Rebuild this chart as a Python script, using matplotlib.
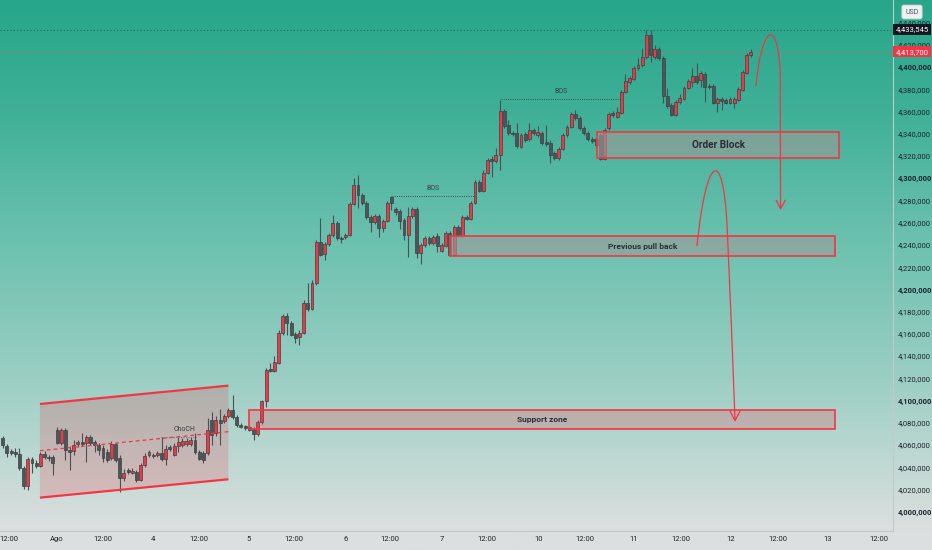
import numpy as np
import matplotlib
matplotlib.use("Agg")
import matplotlib.pyplot as plt
import matplotlib.transforms as mtransforms
from matplotlib.patches import Rectangle, Polygon, PathPatch
from matplotlib.path import Path
from matplotlib.colors import LinearSegmentedColormap

plt.rcParams['font.family'] = ['Roboto', 'DejaVu Sans']

# hourly candles, prices in thousands of USD
opens = [
    4066.4, 4059.3, 4054.8, 4053.9, 4052.1, 4039.5, 4023.3, 4047.6, 4044.0, 4041.3,
    4052.1, 4049.4, 4049.4, 4073.6, 4061.9, 4073.6, 4055.7, 4054.8, 4061.0, 4062.8,
    4061.9, 4067.3, 4062.8, 4060.2, 4057.4, 4053.9, 4048.5, 4061.0, 4048.5, 4030.5,
    4037.7, 4035.0, 4035.9, 4028.7, 4042.2, 4051.2, 4051.2, 4051.2, 4053.0, 4047.6,
    4058.4, 4051.2, 4059.3, 4060.2, 4061.0, 4061.0, 4064.6, 4053.9, 4053.0, 4053.0,
    4082.6, 4070.9, 4082.6, 4081.7, 4086.2, 4091.6, 4085.3, 4078.1, 4077.2, 4076.3,
    4074.5, 4070.0, 4080.8, 4099.7, 4128.5, 4126.7, 4133.9, 4160.8, 4176.1, 4169.8,
    4159.9, 4157.3, 4160.8, 4187.8, 4182.4, 4205.8, 4242.6, 4231.9, 4240.8, 4248.9,
    4259.7, 4246.2, 4247.1, 4248.9, 4276.8, 4293.9, 4284.9, 4277.7, 4265.1, 4260.6,
    4266.0, 4255.2, 4261.5, 4283.1, 4272.4, 4270.5, 4262.4, 4248.9, 4266.0, 4272.4,
    4232.8, 4239.9, 4246.2, 4241.7, 4248.0, 4234.6, 4239.0, 4250.7, 4231.0, 4256.1,
    4248.0, 4265.1, 4263.3, 4277.7, 4296.6, 4288.5, 4304.7, 4317.3, 4315.5, 4320.9,
    4360.4, 4347.8, 4340.6, 4340.6, 4328.0, 4339.7, 4335.2, 4343.3, 4338.8, 4340.6,
    4332.5, 4331.6, 4322.6, 4318.2, 4326.2, 4338.8, 4346.0, 4357.7, 4354.1, 4345.1,
    4340.6, 4335.2, 4335.2, 4338.8, 4317.3, 4345.1, 4358.6, 4355.0, 4358.6, 4377.5,
    4386.5, 4389.2, 4399.1, 4401.8, 4409.0, 4428.7, 4409.0, 4416.2, 4408.1, 4373.9,
    4365.8, 4356.8, 4368.5, 4371.2, 4381.1, 4386.5, 4391.9, 4388.3, 4393.7, 4382.9,
    4382.9, 4367.6, 4371.2, 4370.3, 4367.6, 4367.6, 4370.3, 4379.3, 4394.6, 4410.8,
]
highs = [
    4068.2, 4061.0, 4056.6, 4057.4, 4057.4, 4041.3, 4049.4, 4049.4, 4046.7, 4053.9,
    4054.8, 4051.2, 4051.2, 4076.3, 4075.4, 4075.4, 4059.3, 4064.6, 4064.6, 4070.9,
    4069.1, 4069.1, 4064.6, 4061.9, 4060.2, 4056.6, 4063.7, 4061.9, 4051.2, 4038.6,
    4039.5, 4039.5, 4037.7, 4044.0, 4053.0, 4055.7, 4053.0, 4054.8, 4067.3, 4060.2,
    4060.2, 4061.9, 4067.3, 4066.4, 4066.4, 4067.3, 4070.9, 4055.7, 4054.8, 4084.4,
    4089.8, 4086.2, 4092.5, 4088.0, 4093.4, 4105.1, 4087.1, 4079.9, 4078.1, 4078.1,
    4076.3, 4082.6, 4100.6, 4129.4, 4133.9, 4140.2, 4163.5, 4177.9, 4178.8, 4171.6,
    4161.7, 4163.5, 4190.5, 4205.8, 4208.5, 4244.4, 4264.2, 4242.6, 4250.7, 4266.9,
    4261.5, 4248.0, 4250.7, 4278.6, 4300.2, 4302.9, 4286.7, 4279.5, 4266.9, 4267.8,
    4267.8, 4263.3, 4279.5, 4284.0, 4274.1, 4272.4, 4264.2, 4274.1, 4274.1, 4274.1,
    4241.7, 4248.0, 4248.0, 4248.9, 4250.7, 4241.7, 4252.5, 4252.5, 4257.9, 4257.9,
    4266.9, 4266.9, 4279.5, 4298.4, 4298.4, 4307.4, 4318.2, 4320.0, 4327.1, 4370.3,
    4362.2, 4352.3, 4342.4, 4349.6, 4340.6, 4341.5, 4349.6, 4345.1, 4346.9, 4342.4,
    4347.8, 4334.3, 4324.4, 4328.0, 4340.6, 4347.8, 4359.5, 4361.3, 4355.9, 4346.9,
    4342.4, 4337.0, 4337.0, 4340.6, 4345.1, 4359.5, 4360.4, 4364.0, 4379.3, 4393.7,
    4391.9, 4400.9, 4408.1, 4417.0, 4433.5, 4433.2, 4419.7, 4417.9, 4409.9, 4381.1,
    4367.6, 4370.3, 4375.7, 4382.9, 4389.2, 4399.1, 4403.6, 4396.4, 4395.5, 4384.7,
    4384.7, 4373.0, 4373.0, 4372.1, 4373.0, 4373.0, 4382.0, 4397.3, 4412.6, 4416.2,
]
lows = [
    4057.4, 4049.4, 4051.2, 4049.4, 4037.7, 4020.6, 4019.7, 4035.0, 4039.5, 4040.4,
    4047.6, 4045.8, 4033.2, 4061.0, 4060.2, 4046.7, 4037.7, 4051.2, 4058.4, 4059.3,
    4044.9, 4060.2, 4053.9, 4051.2, 4044.9, 4044.9, 4046.7, 4044.9, 4017.9, 4027.8,
    4034.1, 4034.1, 4026.9, 4027.8, 4040.4, 4049.4, 4048.5, 4049.4, 4045.8, 4042.2,
    4054.8, 4050.3, 4053.9, 4058.4, 4059.3, 4059.3, 4052.1, 4046.7, 4044.0, 4051.2,
    4060.2, 4068.2, 4060.2, 4079.9, 4084.4, 4083.5, 4076.3, 4075.4, 4073.6, 4072.7,
    4064.6, 4068.2, 4079.0, 4094.3, 4125.8, 4125.8, 4133.0, 4159.0, 4159.0, 4158.1,
    4151.8, 4150.1, 4159.9, 4180.6, 4181.5, 4204.0, 4230.1, 4226.5, 4239.0, 4247.1,
    4244.4, 4241.7, 4245.3, 4248.0, 4275.9, 4273.2, 4275.9, 4263.3, 4251.6, 4258.8,
    4247.1, 4251.6, 4260.6, 4271.5, 4266.9, 4254.3, 4244.4, 4229.2, 4264.2, 4228.3,
    4222.9, 4238.1, 4239.9, 4239.9, 4233.7, 4233.7, 4238.1, 4230.1, 4230.1, 4247.1,
    4247.1, 4262.4, 4262.4, 4276.8, 4287.6, 4287.6, 4303.8, 4301.1, 4313.7, 4307.4,
    4345.1, 4338.8, 4337.9, 4327.1, 4327.1, 4332.5, 4333.4, 4338.8, 4337.0, 4329.8,
    4328.9, 4313.7, 4316.4, 4316.4, 4325.4, 4337.0, 4345.1, 4352.3, 4343.3, 4338.8,
    4333.4, 4331.6, 4327.1, 4316.4, 4316.4, 4343.3, 4355.0, 4354.1, 4357.7, 4376.6,
    4384.7, 4388.3, 4397.3, 4400.0, 4407.2, 4404.5, 4407.2, 4406.3, 4367.6, 4363.1,
    4355.9, 4355.9, 4366.7, 4370.3, 4380.2, 4382.0, 4384.7, 4382.0, 4368.5, 4380.2,
    4366.7, 4359.5, 4361.3, 4366.7, 4366.7, 4363.1, 4369.4, 4378.4, 4393.7, 4409.0,
]
closes = [
    4060.2, 4053.0, 4053.0, 4052.1, 4039.5, 4023.3, 4047.6, 4044.0, 4041.3, 4052.1,
    4049.4, 4048.5, 4044.0, 4061.9, 4073.6, 4055.7, 4053.9, 4060.2, 4062.8, 4061.0,
    4067.3, 4061.9, 4060.2, 4055.7, 4048.5, 4046.7, 4061.0, 4046.7, 4030.5, 4035.0,
    4035.9, 4036.8, 4028.7, 4042.2, 4050.3, 4053.9, 4050.3, 4053.0, 4047.6, 4056.6,
    4056.6, 4059.3, 4062.8, 4063.7, 4063.7, 4064.6, 4053.9, 4047.6, 4046.7, 4073.6,
    4069.1, 4082.6, 4079.9, 4086.2, 4091.6, 4085.3, 4078.1, 4076.3, 4075.4, 4073.6,
    4070.0, 4080.8, 4099.7, 4127.6, 4126.7, 4134.8, 4160.8, 4176.1, 4169.8, 4159.0,
    4156.3, 4160.8, 4187.8, 4182.4, 4205.8, 4242.6, 4231.0, 4240.8, 4248.9, 4259.7,
    4246.2, 4245.3, 4248.9, 4276.8, 4293.9, 4284.9, 4277.7, 4265.1, 4260.6, 4266.0,
    4255.2, 4261.5, 4277.7, 4277.7, 4269.6, 4261.5, 4248.9, 4266.0, 4272.4, 4232.8,
    4239.9, 4246.2, 4241.7, 4247.1, 4239.0, 4239.9, 4250.7, 4231.0, 4256.1, 4248.0,
    4265.1, 4263.3, 4277.7, 4296.6, 4288.5, 4304.7, 4316.4, 4315.5, 4320.9, 4360.4,
    4346.9, 4340.6, 4339.7, 4328.9, 4338.8, 4334.3, 4343.3, 4340.6, 4341.5, 4331.6,
    4330.7, 4320.9, 4318.2, 4326.2, 4338.8, 4346.0, 4357.7, 4354.1, 4345.1, 4340.6,
    4335.2, 4333.4, 4329.8, 4317.3, 4343.3, 4357.7, 4356.8, 4359.5, 4377.5, 4387.4,
    4390.1, 4399.1, 4401.8, 4409.0, 4428.7, 4410.8, 4416.2, 4408.1, 4373.9, 4364.9,
    4356.8, 4368.5, 4372.1, 4381.1, 4387.4, 4391.9, 4386.5, 4394.6, 4382.0, 4382.0,
    4367.6, 4371.2, 4369.4, 4367.6, 4371.2, 4371.2, 4380.2, 4395.5, 4410.8, 4413.7,
]

# time axis (bar index of each label)
x_tick_pos = [1.4, 13.0, 23.9, 36.0, 47.0, 58.9, 69.7, 82.1, 92.7, 105.1,
              115.9, 128.1, 139.3, 151.0, 162.3, 174.2, 185.5, 197.4, 209.6]
x_tick_labels = ["12:00", "Ago", "12:00", "4", "12:00", "5", "12:00", "6", "12:00", "7",
                 "12:00", "10", "12:00", "11", "12:00", "12", "12:00", "13", "12:00"]
price_ticks = list(range(4000, 4441, 20))

last_price = 4413.7
high_price = 4433.545

# drawings: (bar, price)
channel_top = [(8.9, 4097.0), (54.0, 4113.5)]
channel_bottom = [(8.9, 4012.8), (54.0, 4029.3)]
channel_mid = [(8.9, 4055.0), (54.0, 4072.1)]
choch_level = [(37.9, 4067.6), (46.5, 4067.6)]
bos_levels = [[(93.1, 4284.0), (113.0, 4284.0)], [(119.2, 4370.9), (147.9, 4370.9)]]
zones = [
    # label, left, right, bottom, top
    ("Support zone", 58.9, 199.1, 4074.1, 4091.6),
    ("Previous pull back", 107.1, 199.1, 4229.6, 4248.0),
    ("Order Block", 142.2, 200.1, 4317.7, 4341.1),
]
arc_top = [(180.2, 4382.9), (181.6, 4436.8), (185.2, 4445.8), (186.0, 4397.3), (186.1, 4273.0)]
arc_top_head = [(185.1, 4280.0), (186.1, 4272.5), (187.2, 4280.0)]
arc_low = [(166.1, 4239.0), (168.3, 4320.9), (172.3, 4329.8), (173.3, 4257.9),
           (173.9, 4204.0), (174.7, 4136.6), (175.2, 4082.6)]
arc_low_head = [(174.0, 4090.7), (175.2, 4082.0), (176.4, 4090.7)]

RED = '#f23645'
TXT = '#1e222d'

fig = plt.figure(figsize=(9.32, 5.5), dpi=100)

# background gradient over whole figure
bg = fig.add_axes([0, 0, 1, 1], zorder=-10)
bg_cmap = LinearSegmentedColormap.from_list("bg", [
    (0.0, "#27a68a"), (0.2, "#3fb097"), (0.45, "#6ec2b0"), (0.67, "#97cdc2"),
    (0.8, "#b5d6cf"), (0.91, "#d0dcd9"), (0.965, "#dcdfdf"), (1.0, "#dcdfdf")])
bg.imshow(np.linspace(0, 1, 512).reshape(-1, 1), aspect='auto', cmap=bg_cmap,
          extent=[0, 1, 0, 1], origin='upper')
bg.axis('off')

ax = fig.add_axes([0, 19 / 550, 893 / 932, 531 / 550])
ax.patch.set_alpha(0)

# candles
o = np.array(opens); h = np.array(highs); l = np.array(lows); c = np.array(closes)
idx = np.arange(len(c))
up = c >= o
body_low = np.minimum(o, c)
body_h = np.maximum(np.abs(c - o), 0.9)
ax.vlines(idx, l, h, color='#4a5153', lw=0.8, zorder=3)
ax.bar(idx[up], body_h[up], bottom=body_low[up], width=0.7, color=RED,
       edgecolor='#3b4143', linewidth=0.5, zorder=4)
ax.bar(idx[~up], body_h[~up], bottom=body_low[~up], width=0.7, color='#4e5558',
       edgecolor='#3b4143', linewidth=0.5, zorder=4)

# horizontal price lines
ax.axhline(high_price, color='#1b6a5b', lw=0.8, ls=(0, (1, 2)), zorder=2)
ax.axhline(last_price, color='#c86a6a', lw=0.8, ls=(0, (1, 2)), zorder=2)

# channel
ax.add_patch(Polygon([channel_top[0], channel_top[1], channel_bottom[1], channel_bottom[0]],
                     closed=True, fc=(0.95, 0.21, 0.27, 0.2), ec='none', zorder=1))
for seg in (channel_top, channel_bottom):
    ax.plot(*zip(*seg), color=RED, lw=1.6, zorder=5, solid_capstyle='butt')
ax.plot(*zip(*channel_mid), color=RED, lw=0.9, ls=(0, (3, 2.5)), zorder=5)
ax.plot(*zip(*choch_level), color='#6f7a78', lw=0.8, ls=(0, (1, 1.2)), zorder=5)
ax.text(43.4, 4074.5, "ChoCH", fontsize=5, color='#3a3f44', ha='center', va='center', zorder=6)

# break of structure levels
for seg in bos_levels:
    ax.plot(*zip(*seg), color='#3f4b48', lw=0.7, ls=(0, (1, 1.3)), zorder=5)
    ax.text((seg[0][0] + seg[1][0]) / 2, seg[0][1] + 7, "BOS", fontsize=5,
            color='#3a3f44', ha='center', va='center', zorder=6)

# zones
zone_fill = {
    "Support zone": (0.95, 0.21, 0.27, 0.22),
    "Previous pull back": (0.62, 0.60, 0.59, 0.6),
    "Order Block": (0.62, 0.60, 0.59, 0.6),
}
zone_size = {"Support zone": 6, "Previous pull back": 6, "Order Block": 7.2}
for label, x0, x1, y0, y1 in zones:
    ax.add_patch(Rectangle((x0, y0), x1 - x0, y1 - y0, fc=zone_fill[label], ec=RED,
                           lw=1.2, zorder=6))
    ax.text((x0 + x1) / 2, (y0 + y1) / 2, label, fontsize=zone_size[label],
            fontweight='bold', color='#2a2e39', ha='center', va='center', zorder=7)

# projected paths
ax.add_patch(PathPatch(Path(arc_top, [Path.MOVETO, Path.CURVE4, Path.CURVE4, Path.CURVE4, Path.LINETO]),
                       fc='none', ec=RED, lw=0.9, zorder=8))
ax.plot(*zip(*arc_top_head), color=RED, lw=0.9, zorder=8)
ax.add_patch(PathPatch(Path(arc_low, [Path.MOVETO] + [Path.CURVE4] * 6),
                       fc='none', ec=RED, lw=0.9, zorder=8))
ax.plot(*zip(*arc_low_head), color=RED, lw=0.9, zorder=8)

ax.set_xlim(-0.65, 213.0)
ax.set_ylim(3982.8, 4460.2)

# axes
ax.yaxis.tick_right()
ax.set_yticks(price_ticks)
ax.set_yticklabels([f"{v * 1000:,.0f}" for v in price_ticks])
for v, lab in zip(price_ticks, ax.get_yticklabels()):
    if v % 100 == 0:
        lab.set_fontweight('bold')
ax.tick_params(axis='y', length=0, pad=3.6, labelsize=5.5, labelcolor=TXT)
ax.set_xticks(x_tick_pos)
ax.set_xticklabels(x_tick_labels)
ax.tick_params(axis='x', length=0, pad=3.5, labelsize=5.5, labelcolor=TXT)
for side in ('top', 'left'):
    ax.spines[side].set_visible(False)
for side in ('right', 'bottom'):
    ax.spines[side].set_color('#c3c9c8')
    ax.spines[side].set_linewidth(0.8)

# price tags on the scale
trans = mtransforms.blended_transform_factory(ax.transAxes, ax.transData)
ax.text(1.003, high_price, f"{high_price * 1000:,.0f}", transform=trans, fontsize=5.5,
        color='white', ha='left', va='center', clip_on=False, zorder=20,
        bbox=dict(boxstyle='square,pad=0.35', fc='#131722', ec='none'))
ax.text(1.003, last_price, f"{last_price * 1000:,.0f}", transform=trans, fontsize=5.5,
        color='white', ha='left', va='center', clip_on=False, zorder=20,
        bbox=dict(boxstyle='square,pad=0.35', fc=RED, ec='none'))
fig.text(912 / 932, 1 - 12 / 550, "USD", fontsize=5, color='#50535e', ha='center', va='center',
         bbox=dict(boxstyle='round,pad=0.5,rounding_size=0.3', fc='#eef1f1', ec='#c5cbca', lw=0.6))

fig.savefig("out.png", dpi=100)
